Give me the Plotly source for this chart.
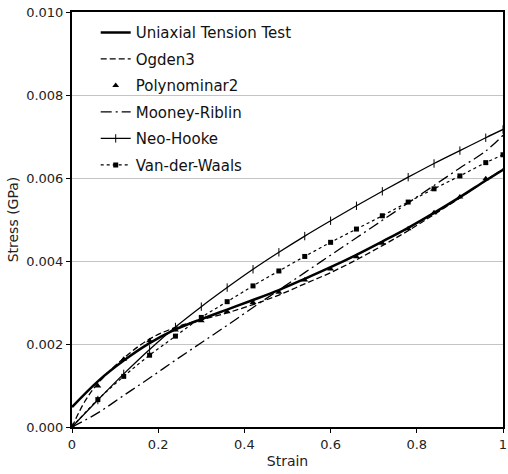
import plotly.graph_objects as go

strain = [0, 0.06, 0.12, 0.18, 0.24, 0.30, 0.36, 0.42, 0.48, 0.54, 0.60,
          0.66, 0.72, 0.78, 0.84, 0.90, 0.96, 1.00]

uniaxial = [0.00048, 0.00110, 0.00160, 0.00202, 0.00235, 0.00260, 0.00283,
            0.00306, 0.00330, 0.00357, 0.00385, 0.00415, 0.00447, 0.00480,
            0.00516, 0.00554, 0.00594, 0.00620]

ogden_strain = [0, 0.03, 0.06, 0.12, 0.18, 0.24, 0.30, 0.36, 0.42, 0.48, 0.54,
                0.60, 0.66, 0.72, 0.78, 0.84, 0.90, 0.96, 1.00]
ogden3 = [0.0, 0.00062, 0.00105, 0.00166, 0.00212, 0.00240, 0.00258, 0.00275,
          0.00295, 0.00318, 0.00345, 0.00372, 0.00403, 0.00437, 0.00473,
          0.00512, 0.00552, 0.00594, 0.00622]

poly_strain = strain[:-1]
polynominar2 = [0.0, 0.00099, 0.00163, 0.00208, 0.00234, 0.00256, 0.00278,
                0.00300, 0.00325, 0.00354, 0.00381, 0.00410, 0.00443, 0.00478,
                0.00516, 0.00554, 0.00598]

mooney = [0.0, 0.00034, 0.00076, 0.00118, 0.00161, 0.00203, 0.00245, 0.00288,
          0.00330, 0.00372, 0.00414, 0.00456, 0.00498, 0.00540, 0.00582,
          0.00624, 0.00665, 0.00703]

neo_hooke = [0.0, 0.00065, 0.00128, 0.00187, 0.00241, 0.00290, 0.00336,
             0.00380, 0.00421, 0.00460, 0.00497, 0.00533, 0.00568, 0.00602,
             0.00635, 0.00666, 0.00697, 0.00717]

vdw = [0.0, 0.00066, 0.00122, 0.00173, 0.00219, 0.00264, 0.00302, 0.00340,
       0.00376, 0.00411, 0.00445, 0.00477, 0.00509, 0.00542, 0.00574,
       0.00605, 0.00637, 0.00656]

y_ticks = [0.000, 0.002, 0.004, 0.006, 0.008, 0.010]
y_tick_labels = ["0.000", "0.002", "0.004", "0.006", "0.008", "0.010"]
x_ticks = [0, 0.2, 0.4, 0.6, 0.8, 1.0]
x_tick_labels = ["0", "0.2", "0.4", "0.6", "0.8", "1"]

fig = go.Figure()
fig.add_trace(go.Scatter(x=strain, y=uniaxial, mode="lines", name="Uniaxial Tension Test",
                         line=dict(color="black", width=2.5, shape="spline"),
                         legendgroup="a"))
fig.add_trace(go.Scatter(x=ogden_strain, y=ogden3, mode="lines", name="Ogden3",
                         line=dict(color="black", width=1.3, dash="6px,3px", shape="spline"),
                         legendgroup="b"))
fig.add_trace(go.Scatter(x=poly_strain, y=polynominar2, mode="markers", name="Polynominar2",
                         marker=dict(symbol="triangle-up", size=6, color="black"),
                         legendgroup="c"))
fig.add_trace(go.Scatter(x=strain, y=mooney, mode="lines", name="Mooney-Riblin",
                         line=dict(color="black", width=1.3, dash="11px,4px,2px,4px", shape="spline"),
                         legendgroup="d"))
fig.add_trace(go.Scatter(x=strain, y=neo_hooke, mode="lines+markers", name="Neo-Hooke",
                         line=dict(color="black", width=1.3, shape="spline"),
                         marker=dict(symbol="line-ns", size=6, color="black",
                                     line=dict(width=1, color="black")),
                         legendgroup="e"))
fig.add_trace(go.Scatter(x=strain, y=vdw, mode="lines+markers", name="Van-der-Waals",
                         line=dict(color="black", width=1.2, dash="dot", shape="spline"),
                         marker=dict(symbol="square", size=5, color="black"),
                         legendgroup="f"))

fig.update_layout(
    width=508, height=474,
    margin=dict(l=72, r=5, t=12, b=47),
    paper_bgcolor="white", plot_bgcolor="white",
    font=dict(family="DejaVu Sans, Arial, sans-serif", size=13, color="#222"),
    legend=dict(x=0.055, y=0.99, xanchor="left", yanchor="top",
                bgcolor="rgba(0,0,0,0)", font=dict(size=15, color="#111"),
                tracegroupgap=4, itemwidth=30),
    showlegend=True,
)
fig.update_xaxes(range=[0, 1], tickvals=x_ticks, ticktext=x_tick_labels,
                 showgrid=False, zeroline=False, automargin=False,
                 showline=True, linecolor="black", linewidth=2, mirror=True,
                 ticks="outside", ticklen=4, tickcolor="black", tickwidth=1,
                 title=dict(text="Strain", font=dict(size=14), standoff=6))
fig.update_yaxes(range=[0, 0.010], tickvals=y_ticks, ticktext=y_tick_labels,
                 showgrid=True, gridcolor="#c4c4c4", gridwidth=1, zeroline=False,
                 automargin=False,
                 showline=True, linecolor="black", linewidth=2, mirror=True,
                 ticks="outside", ticklen=4, tickcolor="black", tickwidth=1,
                 title=dict(text="Stress (GPa)", font=dict(size=14), standoff=4))

fig.write_html("out.html", config={"displayModeBar": False},
               post_script="document.body.style.margin='0px';")
